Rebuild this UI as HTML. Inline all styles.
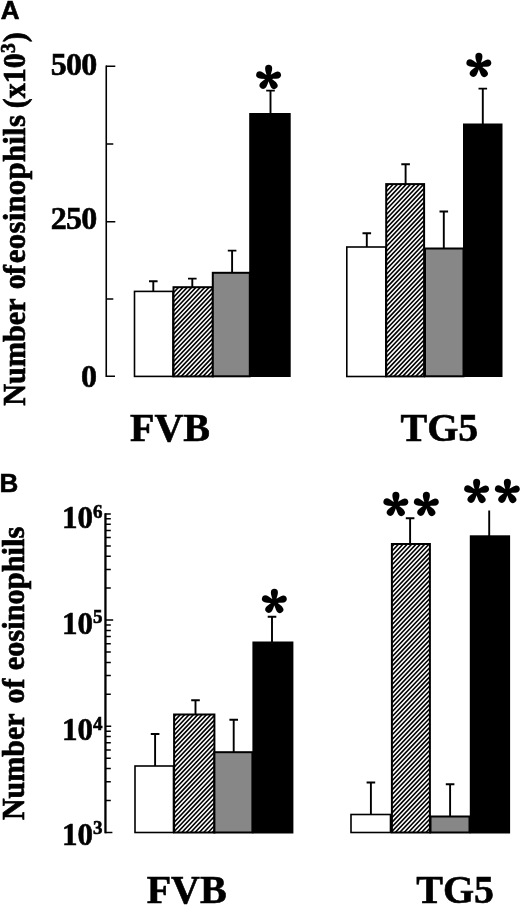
<!DOCTYPE html>
<html lang="en">
<head>
<meta charset="utf-8">
<title>Number of eosinophils</title>
<style>
html,body{margin:0;padding:0;background:#fff;}
body{width:520px;height:906px;overflow:hidden;}
svg{display:block;}
.serif{font-family:"Liberation Serif","DejaVu Serif",serif;font-weight:bold;fill:#000;stroke:#000;stroke-width:0.6px;}
.sans{font-family:"Liberation Sans","DejaVu Sans",sans-serif;font-weight:bold;fill:#000;}
.ln{stroke:#000;fill:none;}
.eb{stroke:#000;fill:none;stroke-width:1.9px;}
.hl{stroke:#000;fill:none;stroke-width:1.6px;}
.ast{font-family:"Noto Serif CJK SC","Noto Serif CJK JP","Liberation Sans",sans-serif;font-weight:900;font-size:50.5px;fill:#000;stroke:#000;stroke-width:1.8px;stroke-linejoin:round;}
</style>
</head>
<body>
<svg width="520" height="906" viewBox="0 0 520 906">
<defs>
<path id="hl" class="hl" d="M-288.7,300l284.7,-300M-284.3,300l284.7,-300M-280.0,300l284.7,-300M-275.6,300l284.7,-300M-271.2,300l284.7,-300M-266.9,300l284.7,-300M-262.5,300l284.7,-300M-258.2,300l284.7,-300M-253.8,300l284.7,-300M-249.4,300l284.7,-300M-245.1,300l284.7,-300M-240.7,300l284.7,-300M-236.4,300l284.7,-300M-232.0,300l284.7,-300M-227.6,300l284.7,-300M-223.3,300l284.7,-300M-218.9,300l284.7,-300M-214.6,300l284.7,-300M-210.2,300l284.7,-300M-205.8,300l284.7,-300M-201.5,300l284.7,-300M-197.1,300l284.7,-300M-192.8,300l284.7,-300M-188.4,300l284.7,-300M-184.0,300l284.7,-300M-179.7,300l284.7,-300M-175.3,300l284.7,-300M-171.0,300l284.7,-300M-166.6,300l284.7,-300M-162.2,300l284.7,-300M-157.9,300l284.7,-300M-153.5,300l284.7,-300M-149.2,300l284.7,-300M-144.8,300l284.7,-300M-140.4,300l284.7,-300M-136.1,300l284.7,-300M-131.7,300l284.7,-300M-127.4,300l284.7,-300M-123.0,300l284.7,-300M-118.6,300l284.7,-300M-114.3,300l284.7,-300M-109.9,300l284.7,-300M-105.6,300l284.7,-300M-101.2,300l284.7,-300M-96.8,300l284.7,-300M-92.5,300l284.7,-300M-88.1,300l284.7,-300M-83.8,300l284.7,-300M-79.4,300l284.7,-300M-75.0,300l284.7,-300M-70.7,300l284.7,-300M-66.3,300l284.7,-300M-62.0,300l284.7,-300M-57.6,300l284.7,-300M-53.2,300l284.7,-300M-48.9,300l284.7,-300M-44.5,300l284.7,-300M-40.2,300l284.7,-300M-35.8,300l284.7,-300M-31.4,300l284.7,-300M-27.1,300l284.7,-300M-22.7,300l284.7,-300M-18.4,300l284.7,-300M-14.0,300l284.7,-300M-9.6,300l284.7,-300M-5.3,300l284.7,-300M-0.9,300l284.7,-300M3.4,300l284.7,-300M7.8,300l284.7,-300M12.2,300l284.7,-300M16.5,300l284.7,-300M20.9,300l284.7,-300M25.2,300l284.7,-300M29.6,300l284.7,-300M34.0,300l284.7,-300M38.3,300l284.7,-300M42.7,300l284.7,-300M47.0,300l284.7,-300"/>
<clipPath id="a1"><rect x="173.5" y="287.2" width="39.3" height="89.2"/></clipPath>
<clipPath id="a2"><rect x="386.2" y="184.1" width="37.9" height="192.3"/></clipPath>
<clipPath id="b1"><rect x="174.1" y="714.5" width="40.3" height="118"/></clipPath>
<clipPath id="b2"><rect x="391.9" y="544" width="38" height="288.5"/></clipPath>
</defs>
<rect x="0" y="0" width="520" height="906" fill="#fff"/>
<!-- PANEL A -->
<text class="sans" x="0.8" y="19.45" font-size="26" stroke="#000" stroke-width="0.6">A</text>
<g class="serif" transform="translate(25.2,405.2) rotate(-90) scale(1,1.045)" style="stroke-width:0.65px">
<text x="-0.5" y="0" font-size="30.2">Number</text>
<text x="116" y="0" font-size="30" letter-spacing="-0.8">of</text>
<text x="142" y="0" font-size="30.9" letter-spacing="0.22">eosinophils</text>
<text x="297" y="0" font-size="30">(x10</text>
<text x="352.2" y="-10.2" font-size="19.5">3</text>
<text x="363" y="0" font-size="30">)</text>
</g>
<path class="ln" stroke-width="1.6" d="M106.25,65.6V377"/>
<path class="ln" stroke-width="1.4" d="M106,66.3H115.3M106,221.8H115.3M106,376.3H115M106,144H113.3M106,299H113.3"/>
<text class="serif" x="50.8" y="74.5" font-size="32" letter-spacing="-0.8">500</text>
<text class="serif" x="50.8" y="229.3" font-size="32" letter-spacing="-0.8">250</text>
<text class="serif" x="81" y="386.9" font-size="32">0</text>
<path class="eb" d="M153.3,291V281.2M149.00,281.2H157.60M192.3,287V278.6M188.00,278.6H196.60M232.1,272V250.6M227.80,250.6H236.40M270.5,114V90.6M266.20,90.6H274.80"/>
<rect x="134.5" y="291.4" width="38.5" height="85" fill="#fff" stroke="#000" stroke-width="1.6"/>
<rect x="173.5" y="287.2" width="39.3" height="89.2" fill="#fff"/>
<g clip-path="url(#a1)"><use href="#hl" transform="translate(172.5,77.39999999999998)"/></g>
<rect x="173.5" y="287.2" width="39.3" height="89.2" fill="none" stroke="#000" stroke-width="2"/>
<rect x="212.8" y="272.8" width="37" height="103.5" fill="#878787" stroke="#000" stroke-width="2"/>
<rect x="249.2" y="113" width="41.5" height="264" fill="#000"/>
<text class="ast" x="256.25" y="108">*</text>
<path class="eb" d="M366.8,247V233.2M362.50,233.2H371.10M405.6,184V164.2M401.30,164.2H409.90M443.8,248V211.5M439.50,211.5H448.10M482.8,124V88.6M478.50,88.6H487.10"/>
<rect x="346.8" y="247" width="39" height="129.5" fill="#fff" stroke="#000" stroke-width="1.6"/>
<rect x="386.2" y="184.1" width="37.9" height="192.3" fill="#fff"/>
<g clip-path="url(#a2)"><use href="#hl" transform="translate(385.2,77.39999999999998)"/></g>
<rect x="386.2" y="184.1" width="37.9" height="192.3" fill="none" stroke="#000" stroke-width="2"/>
<rect x="425" y="248.5" width="38.5" height="127.8" fill="#878787" stroke="#000" stroke-width="2"/>
<rect x="463" y="123.5" width="39.5" height="253.5" fill="#000"/>
<text class="ast" x="466.5" y="96">*</text>
<text class="serif" x="130" y="441.3" font-size="40">FVB</text>
<text class="serif" x="400.5" y="441.3" font-size="40">TG5</text>
<!-- PANEL B -->
<text class="sans" x="-0.6" y="491.6" font-size="26" stroke="#000" stroke-width="0.6">B</text>
<g class="serif" transform="translate(24.4,819.6) rotate(-90) scale(1,1.045)" style="stroke-width:0.65px">
<text x="-0.5" y="0" font-size="30">Number</text>
<text x="116" y="0" font-size="30">of</text>
<text x="149.3" y="0" font-size="30.4">eosinophils</text>
</g>
<path class="ln" stroke-width="2.3" d="M105.45,513.15V833.25"/>
<path class="ln" stroke-width="1.5" d="M105,513.9H110.8M105,620.1H113.2M105,726.3H111.2M105,832.5H112.4M105,588.1H110.8M105,569.4H110.8M105,556.2H110.8M105,545.9H110.8M105,537.5H110.8M105,530.4H110.8M105,524.2H110.8M105,518.8H110.8M105,694.3H110.8M105,675.6H110.8M105,662.4H110.8M105,652.1H110.8M105,643.7H110.8M105,636.6H110.8M105,630.4H110.8M105,625.0H110.8M105,800.5H110.8M105,781.8H110.8M105,768.6H110.8M105,758.3H110.8M105,749.9H110.8M105,742.8H110.8M105,736.6H110.8M105,731.2H110.8"/>
<text class="serif" x="62.1" y="528.1" font-size="31" letter-spacing="-0.2">10</text>
<text class="serif" x="93" y="518.2" font-size="19">6</text>
<text class="serif" x="62.1" y="633.6" font-size="31" letter-spacing="-0.2">10</text>
<text class="serif" x="93" y="623" font-size="19">5</text>
<text class="serif" x="62.1" y="740.1" font-size="31" letter-spacing="-0.2">10</text>
<text class="serif" x="93" y="730" font-size="19">4</text>
<text class="serif" x="62.1" y="844.7" font-size="31" letter-spacing="-0.2">10</text>
<text class="serif" x="93" y="834.2" font-size="19">3</text>
<path class="eb" d="M155.1,766V734M150.80,734H159.40M195.5,714V700.2M191.20,700.2H199.80M233.7,752V719.8M229.40,719.8H238.00M272,643V616.8M267.70,616.8H276.30"/>
<rect x="135" y="766" width="38.5" height="66.5" fill="#fff" stroke="#000" stroke-width="1.6"/>
<rect x="174.1" y="714.5" width="40.3" height="118" fill="#fff"/>
<g clip-path="url(#b1)"><use href="#hl" transform="translate(173.1,533.5)"/></g>
<rect x="174.1" y="714.5" width="40.3" height="118" fill="none" stroke="#000" stroke-width="2"/>
<rect x="214.4" y="752.2" width="38" height="80.3" fill="#878787" stroke="#000" stroke-width="2"/>
<rect x="252.4" y="641.5" width="41" height="192" fill="#000"/>
<text class="ast" x="262" y="631.5">*</text>
<path class="eb" d="M370.9,814V782.5M366.60,782.5H375.20M410.1,543V518.2M405.80,518.2H414.40M450.1,816V784.2M445.80,784.2H454.40M489.2,536V510.6"/>
<rect x="351" y="814.5" width="39.5" height="18" fill="#fff" stroke="#000" stroke-width="1.6"/>
<rect x="391.9" y="544" width="38" height="288.5" fill="#fff"/>
<g clip-path="url(#b2)"><use href="#hl" transform="translate(390.9,533.5)"/></g>
<rect x="391.9" y="544" width="38" height="288.5" fill="none" stroke="#000" stroke-width="2"/>
<rect x="430.5" y="816.5" width="39" height="16" fill="#878787" stroke="#000" stroke-width="2"/>
<rect x="469.8" y="535.3" width="40.3" height="298.2" fill="#000"/>
<text class="ast" x="383.4" y="535.3">*</text>
<text class="ast" x="414" y="535.3">*</text>
<text class="ast" x="464.2" y="521.9">*</text>
<text class="ast" x="494.9" y="521.9">*</text>
<text class="serif" x="146.7" y="903" font-size="40">FVB</text>
<text class="serif" x="416.3" y="903" font-size="40">TG5</text>
</svg>
</body>
</html>
